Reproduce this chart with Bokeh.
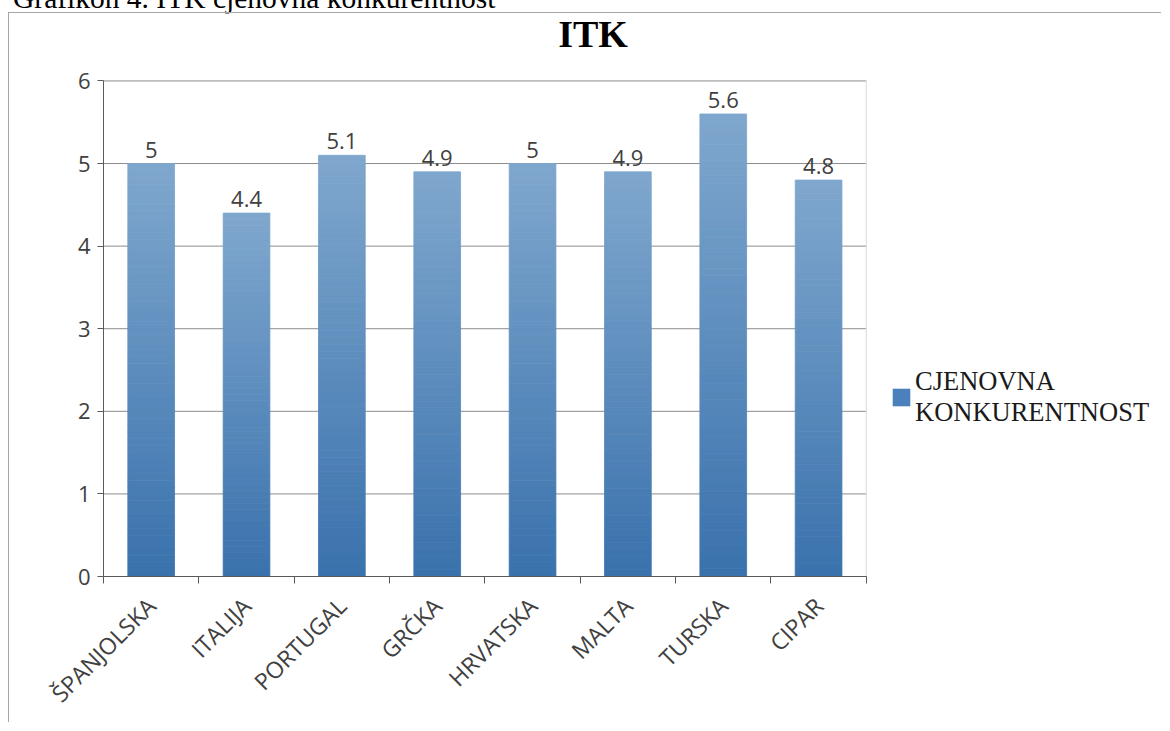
import numpy as np
from bokeh.plotting import figure
from bokeh.models import (ColumnDataSource, FixedTicker, Legend, LegendItem, Div, Label)
from bokeh.layouts import column
from bokeh.core.properties import value
from bokeh.embed import file_html
from bokeh.resources import INLINE

# ---- data ----
categories = ["ŠPANJOLSKA", "ITALIJA", "PORTUGAL", "GRČKA", "HRVATSKA", "MALTA", "TURSKA", "CIPAR"]
values = [5, 4.4, 5.1, 4.9, 5, 4.9, 5.6, 4.8]
y_ticks = [0, 1, 2, 3, 4, 5, 6]
series_name = "CJENOVNA\nKONKURENTNOST"
chart_title = "ITK"
caption = "Grafikon 4. ITK cjenovna konkurentnost"

n = len(categories)
centers = [i + 0.5 for i in range(n)]
bounds = list(range(n + 1))
y_max = y_ticks[-1]

# frame extends beyond the plot area so the title and legend can sit inside it
p = figure(width=1153, height=710, x_range=(0, 11.107), y_range=(0, 6.8165),
           output_backend="svg", toolbar_location=None,
           min_border_left=94, min_border_right=0, min_border_top=0, min_border_bottom=146)
p.styles = {"border-left": "1px solid #a6a6a6", "border-top": "1px solid #a6a6a6"}
p.background_fill_color = "white"
p.border_fill_color = "white"
p.outline_line_color = None
p.grid.grid_line_color = None

# horizontal gridlines and plot-area right border
p.segment(x0=[0] * len(y_ticks), x1=[n] * len(y_ticks), y0=y_ticks, y1=y_ticks,
          line_color="#8c8c8c", line_width=1)
p.segment(x0=[n], x1=[n], y0=[0], y1=[y_max], line_color="#d9d9d9", line_width=1)

# gradient bars: slices coloured by relative height within each bar
dark = np.array([58, 114, 173])
light = np.array([128, 168, 206])
N = 60
xs, bots, tops, cols = [], [], [], []
for c, v in zip(centers, values):
    for k in range(N):
        f = (k + 0.5) / N
        rgb = (dark + (light - dark) * f).astype(int)
        xs.append(c)
        bots.append(v * k / N)
        tops.append(v * (k + 1) / N)
        cols.append("#%02x%02x%02x" % tuple(rgb))
src = ColumnDataSource(dict(x=xs, bottom=bots, top=tops, color=cols))
p.vbar(x="x", bottom="bottom", top="top", width=0.49, source=src,
       fill_color="color", line_color="color", line_width=0.8)

# value labels
lab_src = ColumnDataSource(dict(x=centers, y=values, t=[("%g" % v) for v in values]))
p.text(x="x", y="y", text="t", source=lab_src, text_align="center", text_baseline="bottom",
       y_offset=-6, text_font=value("Open Sans"), text_font_size="22px", text_color="#404040")

# title
p.add_layout(Label(x=5.134, y=6.572, text=chart_title, text_align="center",
                   text_baseline="alphabetic", text_font="Liberation Serif",
                   text_font_size="38px", text_font_style="bold", text_color="#000000"))

# legend (zero-height swatch renderer)
dummy = p.vbar(x=[centers[0]], bottom=[0], top=[0], width=0.5,
               fill_color="#4a80bb", line_color="#4a80bb", line_alpha=0)
leg = Legend(items=[LegendItem(label=series_name, renderers=[dummy])],
             location=(787, 148), orientation="vertical",
             label_text_font="Liberation Serif", label_text_font_size="26.5px",
             label_text_line_height=1.32,
             label_text_color="#1a1a1a", glyph_width=22, glyph_height=22,
             label_standoff=3, padding=0, margin=0, spacing=0,
             border_line_color=None, background_fill_alpha=0)
p.add_layout(leg, "center")

# axes
p.yaxis.ticker = FixedTicker(ticks=y_ticks)
p.yaxis.bounds = (0, y_max)
p.yaxis.axis_line_color = "#595959"
p.yaxis.major_tick_line_color = "#595959"
p.yaxis.major_tick_out = 6
p.yaxis.major_tick_in = 0
p.yaxis.minor_tick_line_color = None
p.yaxis.major_label_text_font = "Open Sans"
p.yaxis.major_label_text_font_size = "22px"
p.yaxis.major_label_text_color = "#404040"
p.yaxis.major_label_standoff = 7

p.xaxis.ticker = FixedTicker(ticks=centers, minor_ticks=bounds)
p.xaxis.bounds = (0, n)
p.xaxis.major_label_overrides = {c: name for c, name in zip(centers, categories)}
p.xaxis.major_tick_line_color = None
p.xaxis.minor_tick_line_color = "#595959"
p.xaxis.minor_tick_out = 7
p.xaxis.minor_tick_in = 0
p.xaxis.axis_line_color = "#595959"
p.xaxis.major_label_orientation = np.pi / 4
p.xaxis.major_label_text_font = "Open Sans"
p.xaxis.major_label_text_font_size = "23px"
p.xaxis.major_label_text_color = "#404040"
p.xaxis.major_label_standoff = 18

cap = Div(text='<span style="position:relative; top:-28px; left:0px; white-space:nowrap; '
               'font-family:\'Liberation Serif\'; font-size:29.5px; color:#000;">' + caption + '</span>',
          width=700, height=2, styles={"overflow": "visible"})

layout = column(cap, p, spacing=0, styles={"margin-left": "8px"})
open("out.html", "w").write(file_html(layout, INLINE))
